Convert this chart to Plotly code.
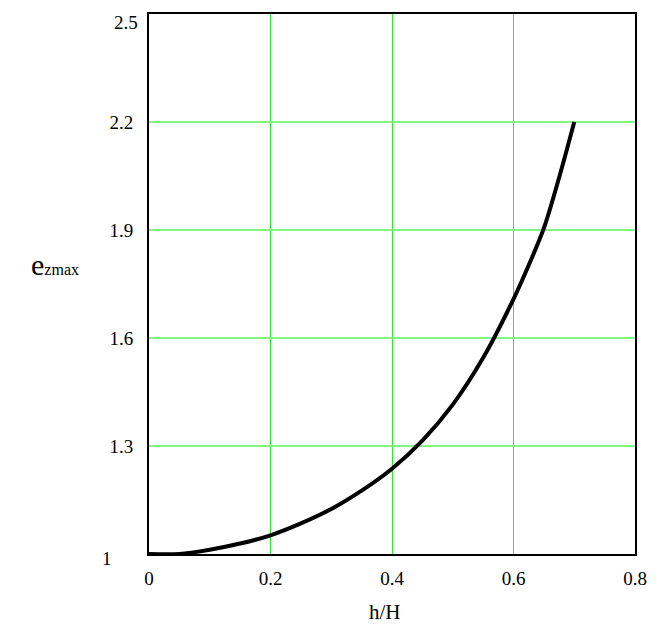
import plotly.graph_objects as go

h_over_H = [0.0, 0.05, 0.1, 0.15, 0.2, 0.25, 0.3, 0.35, 0.4, 0.45, 0.5, 0.55, 0.6, 0.625, 0.65, 0.675, 0.7]
e_zmax = [1.0, 1.0, 1.012, 1.029, 1.052, 1.085, 1.125, 1.176, 1.237, 1.315, 1.415, 1.545, 1.708, 1.802, 1.905, 2.045, 2.2]

x_ticks = [0, 0.2, 0.4, 0.6, 0.8]
x_tick_labels = ["0", "0.2", "0.4", "0.6", "0.8"]
y_ticks = [1, 1.3, 1.6, 1.9, 2.2, 2.5]
y_tick_labels = ["1", "1.3", "1.6", "1.9", "2.2", "2.5"]

font_family = "Times New Roman, Liberation Serif, serif"
tick_size = 19

fig = go.Figure()
fig.add_trace(go.Scatter(
    x=h_over_H, y=e_zmax, mode="lines",
    line=dict(color="black", width=4, shape="spline", smoothing=0.8),
    showlegend=False, hoverinfo="skip",
))

fig.update_layout(
    width=649, height=623,
    margin=dict(l=141, r=22, t=4, b=77),
    paper_bgcolor="white", plot_bgcolor="white",
    font=dict(family=font_family, size=tick_size, color="black"),
    xaxis=dict(
        range=[0, 0.8], tickvals=x_ticks, ticktext=x_tick_labels,
        showgrid=True, gridcolor="#22ee22", gridwidth=1,
        showline=True, linecolor="black", linewidth=2, mirror=True,
        ticks="", ticklabelstandoff=6, zeroline=False,
        tickfont=dict(family=font_family, size=tick_size),
    ),
    yaxis=dict(
        range=[1, 2.5], tickvals=y_ticks[1:-1], ticktext=y_tick_labels[1:-1],
        showgrid=True, gridcolor="#80f880", gridwidth=2,
        showline=True, linecolor="black", linewidth=2, mirror=True,
        ticks="", ticklabelstandoff=10, zeroline=False,
        tickfont=dict(family=font_family, size=tick_size),
    ),
    annotations=[
        dict(text=y_tick_labels[-1], xref="paper", yref="y", x=0, y=y_ticks[-1],
             xanchor="right", yanchor="top", xshift=-9, yshift=4, showarrow=False,
             font=dict(family=font_family, size=tick_size)),
        dict(text=y_tick_labels[0], xref="paper", yref="y", x=0, y=y_ticks[0],
             xanchor="right", yanchor="middle", xshift=-35, yshift=-4, showarrow=False,
             font=dict(family=font_family, size=tick_size)),
        dict(text="h/H", xref="paper", yref="paper", x=0.486, y=-0.107,
             xanchor="center", yanchor="middle", showarrow=False,
             font=dict(family=font_family, size=21)),
        dict(text="<span style='font-size:30px'>e</span><span style='font-size:16px'>zmax</span>",
             xref="paper", yref="paper", x=-0.247, y=0.537,
             xanchor="left", yanchor="middle", showarrow=False,
             font=dict(family=font_family, size=16)),
    ],
)

fig.write_html("out.html")
